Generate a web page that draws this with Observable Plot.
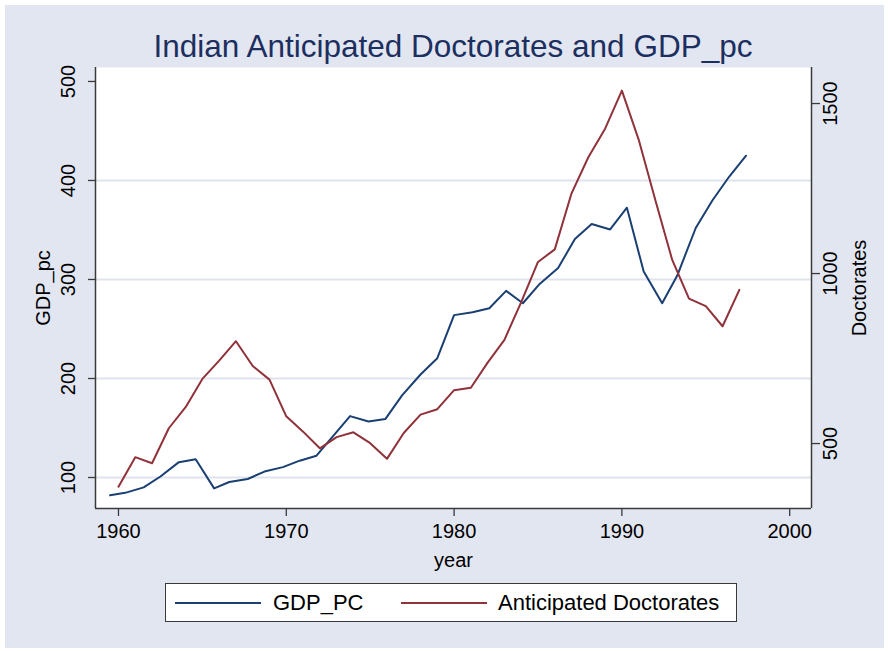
<!DOCTYPE html>
<html>
<head>
<meta charset="utf-8">
<script src="https://cdn.jsdelivr.net/npm/d3@7"></script>
<script src="https://cdn.jsdelivr.net/npm/@observablehq/plot@0.6"></script>
<style>
  html, body { margin: 0; padding: 0; background: #ffffff; }
  #wrap { position: relative; width: 888px; height: 651px; overflow: hidden;
          font-family: "Liberation Sans", Arial, sans-serif; }
  #bg { position: absolute; left: 5px; top: 5px; width: 879px; height: 643px; background: #e2e6f1; }
  #chart { position: absolute; left: 0; top: 0; }
  #title { position: absolute; left: 9px; width: 888px; top: 28px; text-align: center;
           font-size: 31.5px; line-height: 36px; color: #1c2f5f; white-space: nowrap; }
  #legend { position: absolute; left: 165px; top: 583px; width: 572px; height: 39px;
            background: #fff; border: 1px solid #3a3a3a; box-sizing: border-box; }
  .sw { position: absolute; height: 2px; top: 18px; }
  .lt { position: absolute; top: 6px; font-size: 22px; line-height: 26px; color: #000; white-space: nowrap; }
</style>
</head>
<body>
<div id="wrap">
  <div id="bg"></div>
  <div id="chart"></div>
  <div id="title"></div>
  <div id="legend"></div>
</div>
<script>
// ---- data ----
const chartTitle = "Indian Anticipated Doctorates and GDP_pc";
const seriesNames = ["GDP_PC", "Anticipated Doctorates"];
const seriesColors = ["#1a3f73", "#8f323a"];

// GDP per capita (left axis); its x positions as they appear in the picture
const gdpYears = [1959.5, 1960.4, 1961.5, 1962.5, 1963.6, 1964.6, 1965.7, 1966.6, 1967.7, 1968.7,
                  1969.8, 1970.8, 1971.8, 1972.8, 1973.8, 1974.9, 1975.9, 1976.9, 1978.0, 1979.0,
                  1980.0, 1981.1, 1982.1, 1983.1, 1984.1, 1985.1, 1986.2, 1987.2, 1988.2, 1989.3,
                  1990.3, 1991.3, 1992.4, 1993.3, 1994.4, 1995.4, 1996.4, 1997.4];
const gdpValues = [82, 84.5, 90, 101, 115.5, 118.5, 89, 95.5, 98.5, 106,
                   110.5, 117, 122, 142, 162, 156.5, 159, 183, 204, 220.5,
                   264, 267, 271, 288.5, 276, 295.5, 311.5, 341, 356, 350.5,
                   372.5, 308, 276, 304, 352, 380, 404, 425];

// Anticipated doctorates (right axis)
const docYears = [1960, 1961, 1962, 1963, 1964, 1965, 1966, 1967, 1968, 1969,
                  1970, 1971, 1972, 1973, 1974, 1975, 1976, 1977, 1978, 1979,
                  1980, 1981, 1982, 1983, 1984, 1985, 1986, 1987, 1988, 1989,
                  1990, 1991, 1992, 1993, 1994, 1995, 1996, 1997];
const docValues = [373, 460, 442, 545, 607, 690, 744, 801, 728, 688,
                   580, 535, 486, 519, 533, 501, 455, 531, 585, 601,
                   657, 664, 738, 805, 916, 1034, 1071, 1236, 1342, 1426,
                   1538, 1394, 1215, 1040, 926, 904, 845, 952];

const xTicks = [1960, 1970, 1980, 1990, 2000];
const leftTicks = [100, 200, 300, 400, 500];
const gridTicks = [100, 200, 300, 400];
const rightTicks = [500, 1000, 1500];

// ---- scales ----
const xDomain = [1958.63, 2001.3];
const yDomain = [68.7, 514.1];
// map doctorates onto the left (GDP) axis units
const docToLeft = d3.scaleLinear().domain([500, 1500]).range([134.3, 477.7]);

const gdpData = gdpYears.map((yr, i) => ({year: yr, v: gdpValues[i]}));
const docData = docYears.map((yr, i) => ({year: yr, v: docToLeft(docValues[i])}));

const axisColor = "#3a3a3a";

const plot = Plot.plot({
  width: 888,
  height: 651,
  marginLeft: 95,
  marginRight: 77,
  marginTop: 67,
  marginBottom: 143,
  style: {background: "transparent", fontFamily: "'Liberation Sans', Arial, sans-serif", fontSize: "20px", color: "#000", overflow: "visible"},
  x: {domain: xDomain},
  y: {domain: yDomain},
  marks: [
    Plot.frame({fill: "white", stroke: null}),
    Plot.ruleY(gridTicks, {stroke: "#dfe3ee", strokeWidth: 2}),
    Plot.axisX({ticks: xTicks, tickSize: 8, tickPadding: 7, tickFormat: d => String(d), stroke: axisColor, strokeWidth: 1.3,
                label: "year", labelAnchor: "center", labelArrow: "none", labelOffset: 58}),
    Plot.axisY({anchor: "left", ticks: leftTicks, tickSize: 7, tickPadding: 14, tickRotate: -90,
                textAnchor: "middle", lineAnchor: "bottom",
                stroke: axisColor, strokeWidth: 1.3,
                tickFormat: d => String(d),
                label: "GDP_pc", labelAnchor: "center", labelArrow: "none", labelOffset: 60}),
    Plot.axisY({anchor: "right", ticks: rightTicks.map(docToLeft), tickSize: 8, tickPadding: 3, tickRotate: -90,
                textAnchor: "middle", lineAnchor: "top",
                stroke: axisColor, strokeWidth: 1.3,
                tickFormat: d => String(Math.round(docToLeft.invert(d))),
                label: "Doctorates", labelAnchor: "center", labelArrow: "none", labelOffset: 54}),
    Plot.ruleX([xDomain[0]], {stroke: axisColor, strokeWidth: 1.5}),
    Plot.ruleX([xDomain[1]], {stroke: axisColor, strokeWidth: 1.5}),
    Plot.ruleY([yDomain[0]], {stroke: axisColor, strokeWidth: 1.5}),
    Plot.lineY(gdpData, {x: "year", y: "v", stroke: seriesColors[0], strokeWidth: 2}),
    Plot.lineY(docData, {x: "year", y: "v", stroke: seriesColors[1], strokeWidth: 2})
  ]
});
document.getElementById("chart").appendChild(plot);

document.getElementById("title").textContent = chartTitle;

// legend
const legend = document.getElementById("legend");
const legendItems = [
  {swLeft: 9, swWidth: 86, textLeft: 107},
  {swLeft: 235, swWidth: 86, textLeft: 332}
];
seriesNames.forEach((name, i) => {
  const sw = document.createElement("div");
  sw.className = "sw";
  sw.style.left = legendItems[i].swLeft + "px";
  sw.style.width = legendItems[i].swWidth + "px";
  sw.style.background = seriesColors[i];
  legend.appendChild(sw);
  const t = document.createElement("div");
  t.className = "lt";
  t.style.left = legendItems[i].textLeft + "px";
  t.textContent = name;
  legend.appendChild(t);
});
</script>
</body>
</html>
